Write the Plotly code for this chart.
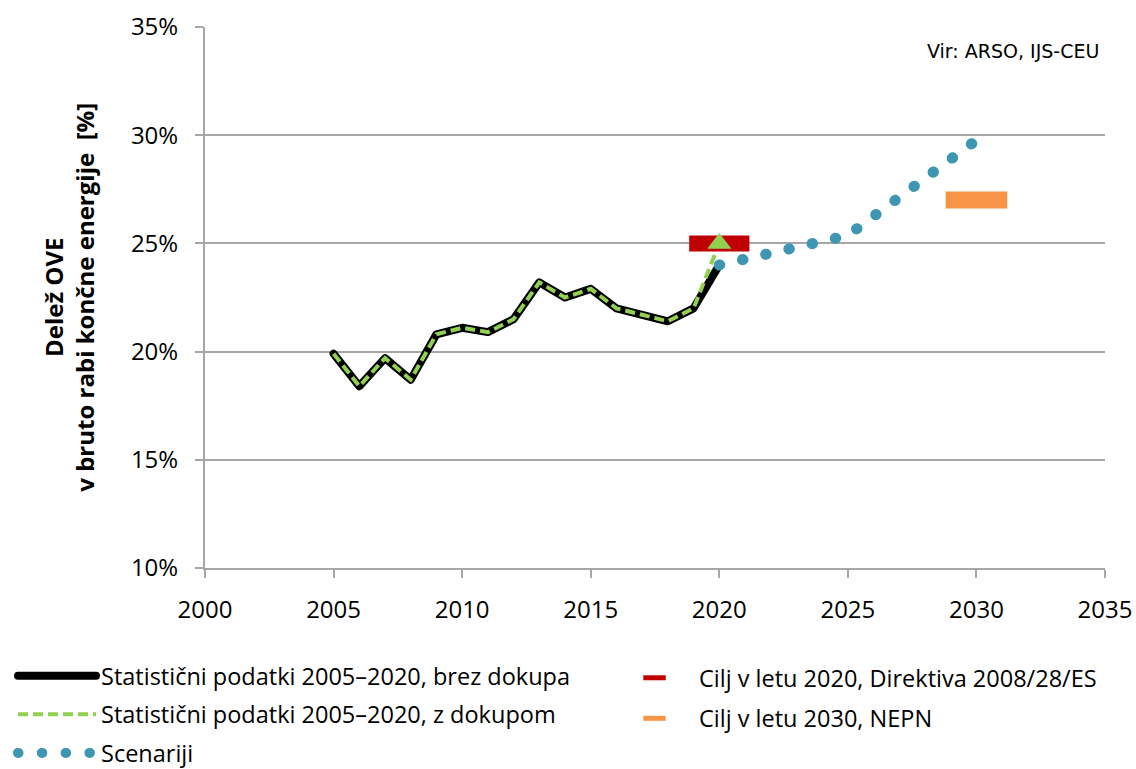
import plotly.graph_objects as go

# ---- data ----
years_stat = [2005, 2006, 2007, 2008, 2009, 2010, 2011, 2012, 2013, 2014, 2015, 2016, 2017, 2018, 2019, 2020]
stat_brez = [19.9, 18.4, 19.7, 18.7, 20.8, 21.1, 20.9, 21.5, 23.2, 22.5, 22.9, 22.0, 21.7, 21.4, 22.0, 24.0]
stat_z = [19.9, 18.4, 19.7, 18.7, 20.8, 21.1, 20.9, 21.5, 23.2, 22.5, 22.9, 22.0, 21.7, 21.4, 22.0, 25.0]
years_scen = [2020, 2021, 2022, 2023, 2024, 2025, 2026, 2027, 2028, 2029, 2030]
scenariji = [24.0, 24.26, 24.52, 24.78, 25.04, 25.37, 26.25, 27.13, 28.0, 28.9, 29.77]
cilj2020_year = [2020]
cilj2020_val = [25.0]
cilj2030_year = [2030]
cilj2030_val = [27.0]

names = [
    "Statistični podatki 2005–2020, brez dokupa",
    "Statistični podatki 2005–2020, z dokupom",
    "Scenariji",
    "Cilj v letu 2020, Direktiva 2008/28/ES",
    "Cilj v letu 2030, NEPN",
]
y_title = "<b>Delež OVE<br>v bruto rabi končne energije  [%]</b>"
source = "Vir: ARSO, IJS-CEU"

FONT = "Open Sans, sans-serif"
GRID = "#A6A6A6"

fig = go.Figure()
fig.add_trace(go.Scatter(x=years_stat, y=stat_brez, mode="lines", name=names[0],
                         line=dict(color="black", width=8), legend="legend", legendgroup="a"))
fig.add_trace(go.Scatter(x=years_stat, y=stat_z, mode="lines", name=names[1],
                         line=dict(color="#92D050", width=4, dash="10px,5px"), legend="legend",
                         legendgroup="b"))
fig.add_trace(go.Scatter(x=years_scen, y=scenariji, mode="lines", name=names[2],
                         line=dict(color="#3E97B2", width=11, dash="0.5px,23.3px"), legend="legend",
                         legendgroup="c"))
fig.add_trace(go.Scatter(x=cilj2020_year, y=cilj2020_val, mode="markers", name=names[3],
                         marker=dict(symbol="line-ew", size=43, color="#C00000",
                                     line=dict(color="#C00000", width=16)), legend="legend2",
                         legendgroup="d"))
fig.add_trace(go.Scatter(x=cilj2030_year, y=cilj2030_val, mode="markers", name=names[4],
                         marker=dict(symbol="line-ew", size=44, color="#F79646",
                                     line=dict(color="#F79646", width=17)), legend="legend2",
                         legendgroup="e"))
fig.add_trace(go.Scatter(x=years_stat[-1:], y=stat_z[-1:], mode="markers", showlegend=False,
                         marker=dict(symbol="triangle-up", size=21, color="#92D050")))

fig.update_layout(
    width=1136, height=769,
    margin=dict(l=205, r=31, t=27, b=201, autoexpand=False),
    plot_bgcolor="white", paper_bgcolor="white",
    font=dict(family=FONT, size=24, color="black"),
    xaxis=dict(range=[2000, 2035], dtick=5, tick0=2000, showgrid=False, zeroline=False,
               showline=True, linecolor=GRID, linewidth=2, ticks="outside", ticklen=8,
               tickcolor=GRID, tickwidth=2, tickformat="d", ticklabelstandoff=11),
    yaxis=dict(range=[10, 35], dtick=5, showgrid=True, gridcolor=GRID, gridwidth=2,
               zeroline=False, showline=True, linecolor=GRID, linewidth=2, ticks="outside",
               ticklen=8, tickcolor=GRID, tickwidth=2, ticksuffix="%", ticklabelstandoff=12),
    legend=dict(xref="container", yref="container", x=13 / 1136, y=1 - 654 / 769, yanchor="top",
                xanchor="left", itemwidth=78, tracegroupgap=5, bgcolor="rgba(0,0,0,0)",
                font=dict(size=23.5)),
    legend2=dict(xref="container", yref="container", x=0.537, y=1 - 656 / 769, yanchor="top",
                 xanchor="left", itemwidth=79, tracegroupgap=7, bgcolor="rgba(0,0,0,0)",
                 font=dict(size=23.5)),
    annotations=[
        dict(text=source, xref="paper", yref="paper", x=0.995, y=0.955,
             xanchor="right", yanchor="middle", showarrow=False,
             font=dict(family="DejaVu Sans", size=19, color="black")),
        dict(text=y_title, xref="paper", yref="paper", x=-0.152, y=0.5, textangle=-90,
             xanchor="center", yanchor="middle", showarrow=False,
             font=dict(family=FONT, size=24, color="black")),
    ],
)

post = """
document.documentElement.style.margin='0';
document.body.style.margin='0';
document.body.style.overflow='hidden';
var gd = document.getElementById('{plot_id}');
function roundCaps(){
  var traces = gd.querySelectorAll('.scatterlayer .trace');
  [0,2].forEach(function(i){
    if(!traces[i]) return;
    traces[i].querySelectorAll('path.js-line').forEach(function(p){
      p.style.strokeLinecap='round'; p.style.strokeLinejoin='round';});
  });
  gd.querySelectorAll('.legend .traces').forEach(function(t){
    var txt = t.textContent || '';
    if(txt.indexOf('Scenariji')>=0 || txt.indexOf('brez dokupa')>=0){
      t.querySelectorAll('path').forEach(function(p){
        p.style.strokeLinecap='round'; p.style.strokeLinejoin='round';});
    }
  });
}
roundCaps();
gd.on('plotly_afterplot', roundCaps);
"""

fig.write_html("out.html", post_script=post, config={"displayModeBar": False})
